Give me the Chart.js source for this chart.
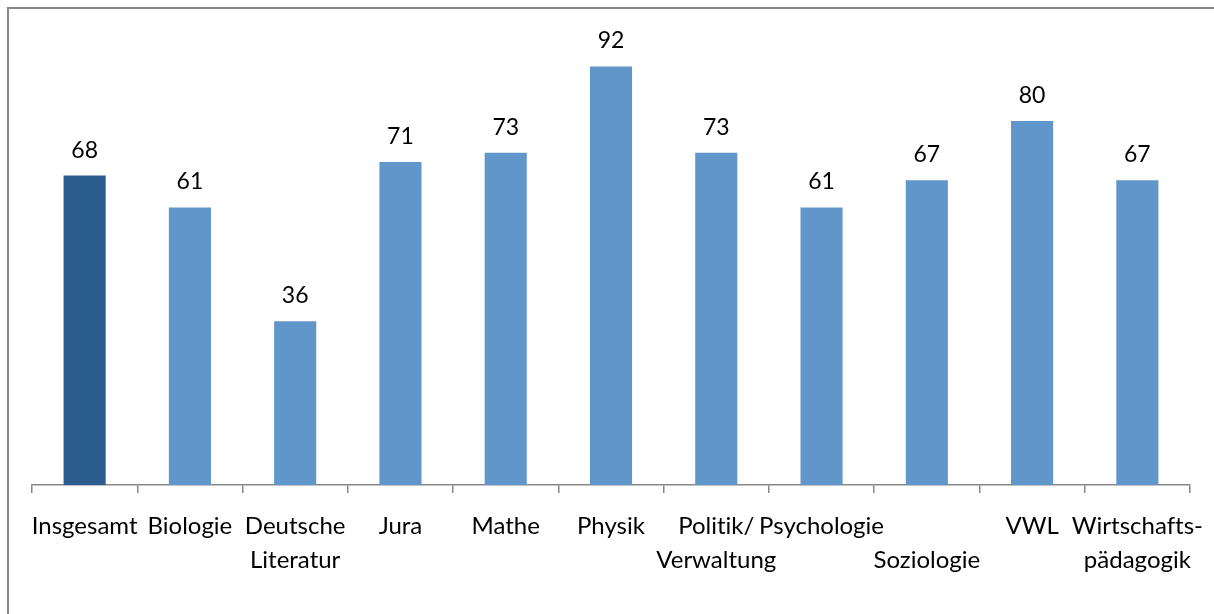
<!DOCTYPE html>
<html>
<head>
<meta charset="utf-8">
<script src="https://cdn.jsdelivr.net/npm/chart.js@4.4.0/dist/chart.umd.min.js"></script>
<style>
  html, body { margin: 0; padding: 0; background: #fff; overflow: hidden; }
  #wrap { position: relative; width: 1214px; height: 614px; }
  #frame { position: absolute; left: 7px; top: 7px; width: 1400px; height: 800px; border-left: 2px solid #878787; border-top: 2px solid #878787; box-sizing: border-box; }
  canvas { position: absolute; left: 0; top: 0; font-variant-ligatures: none; }
</style>
</head>
<body>
<div id="wrap">
  <div id="frame"></div>
  <canvas id="c" width="1214" height="614"></canvas>
</div>
<script>
const categories = [
  "Insgesamt", "Biologie", ["Deutsche", "Literatur"], "Jura", "Mathe", "Physik",
  ["Politik/", "Verwaltung"], "Psychologie", ["", "Soziologie"], "VWL", ["Wirtschafts-", "pädagogik"]
];
const values = [68, 61, 36, 71, 73, 92, 73, 61, 67, 80, 67];
const barColors = ["#2B5C8E", "#6096C9", "#6096C9", "#6096C9", "#6096C9", "#6096C9", "#6096C9", "#6096C9", "#6096C9", "#6096C9", "#6096C9"];
const yMax = 100;

const FONT = "Lato, 'Open Sans', sans-serif";

const noLigatures = {
  id: 'noLigatures',
  beforeDraw(chart) {
    if ('textRendering' in chart.ctx) chart.ctx.textRendering = 'optimizeSpeed';
  }
};

const valueLabels = {
  id: 'valueLabels',
  afterDatasetsDraw(chart) {
    const ctx = chart.ctx;
    const meta = chart.getDatasetMeta(0);
    ctx.save();
    ctx.font = "23px " + FONT;
    ctx.fillStyle = "#000";
    ctx.textAlign = "center";
    ctx.textBaseline = "alphabetic";
    meta.data.forEach((bar, i) => {
      ctx.fillText(String(values[i]), bar.x, bar.y - 18);
    });
    ctx.restore();
  }
};

new Chart(document.getElementById('c'), {
  type: 'bar',
  data: {
    labels: categories,
    datasets: [{
      data: values,
      backgroundColor: barColors,
      borderWidth: 0,
      barPercentage: 0.4,
      categoryPercentage: 1.0
    }]
  },
  options: {
    responsive: false,
    animation: false,
    layout: { padding: { left: 32, right: 24, top: 30, bottom: 0 } },
    plugins: { legend: { display: false }, tooltip: { enabled: false } },
    scales: {
      y: { display: false, min: 0, max: yMax },
      x: {
        afterFit(scale) { scale.height = 129; scale.paddingLeft = 0; scale.paddingRight = 0; },
        grid: { offset: true, drawOnChartArea: false, tickLength: 8, color: "#878787", lineWidth: 1.5 },
        border: { display: true, color: "#878787", width: 1.5 },
        ticks: {
          autoSkip: false, maxRotation: 0, minRotation: 0,
          padding: 16, color: "#000",
          font: { family: FONT, size: 24, lineHeight: "34px" }
        }
      }
    }
  },
  plugins: [noLigatures, valueLabels]
});
</script>
</body>
</html>
